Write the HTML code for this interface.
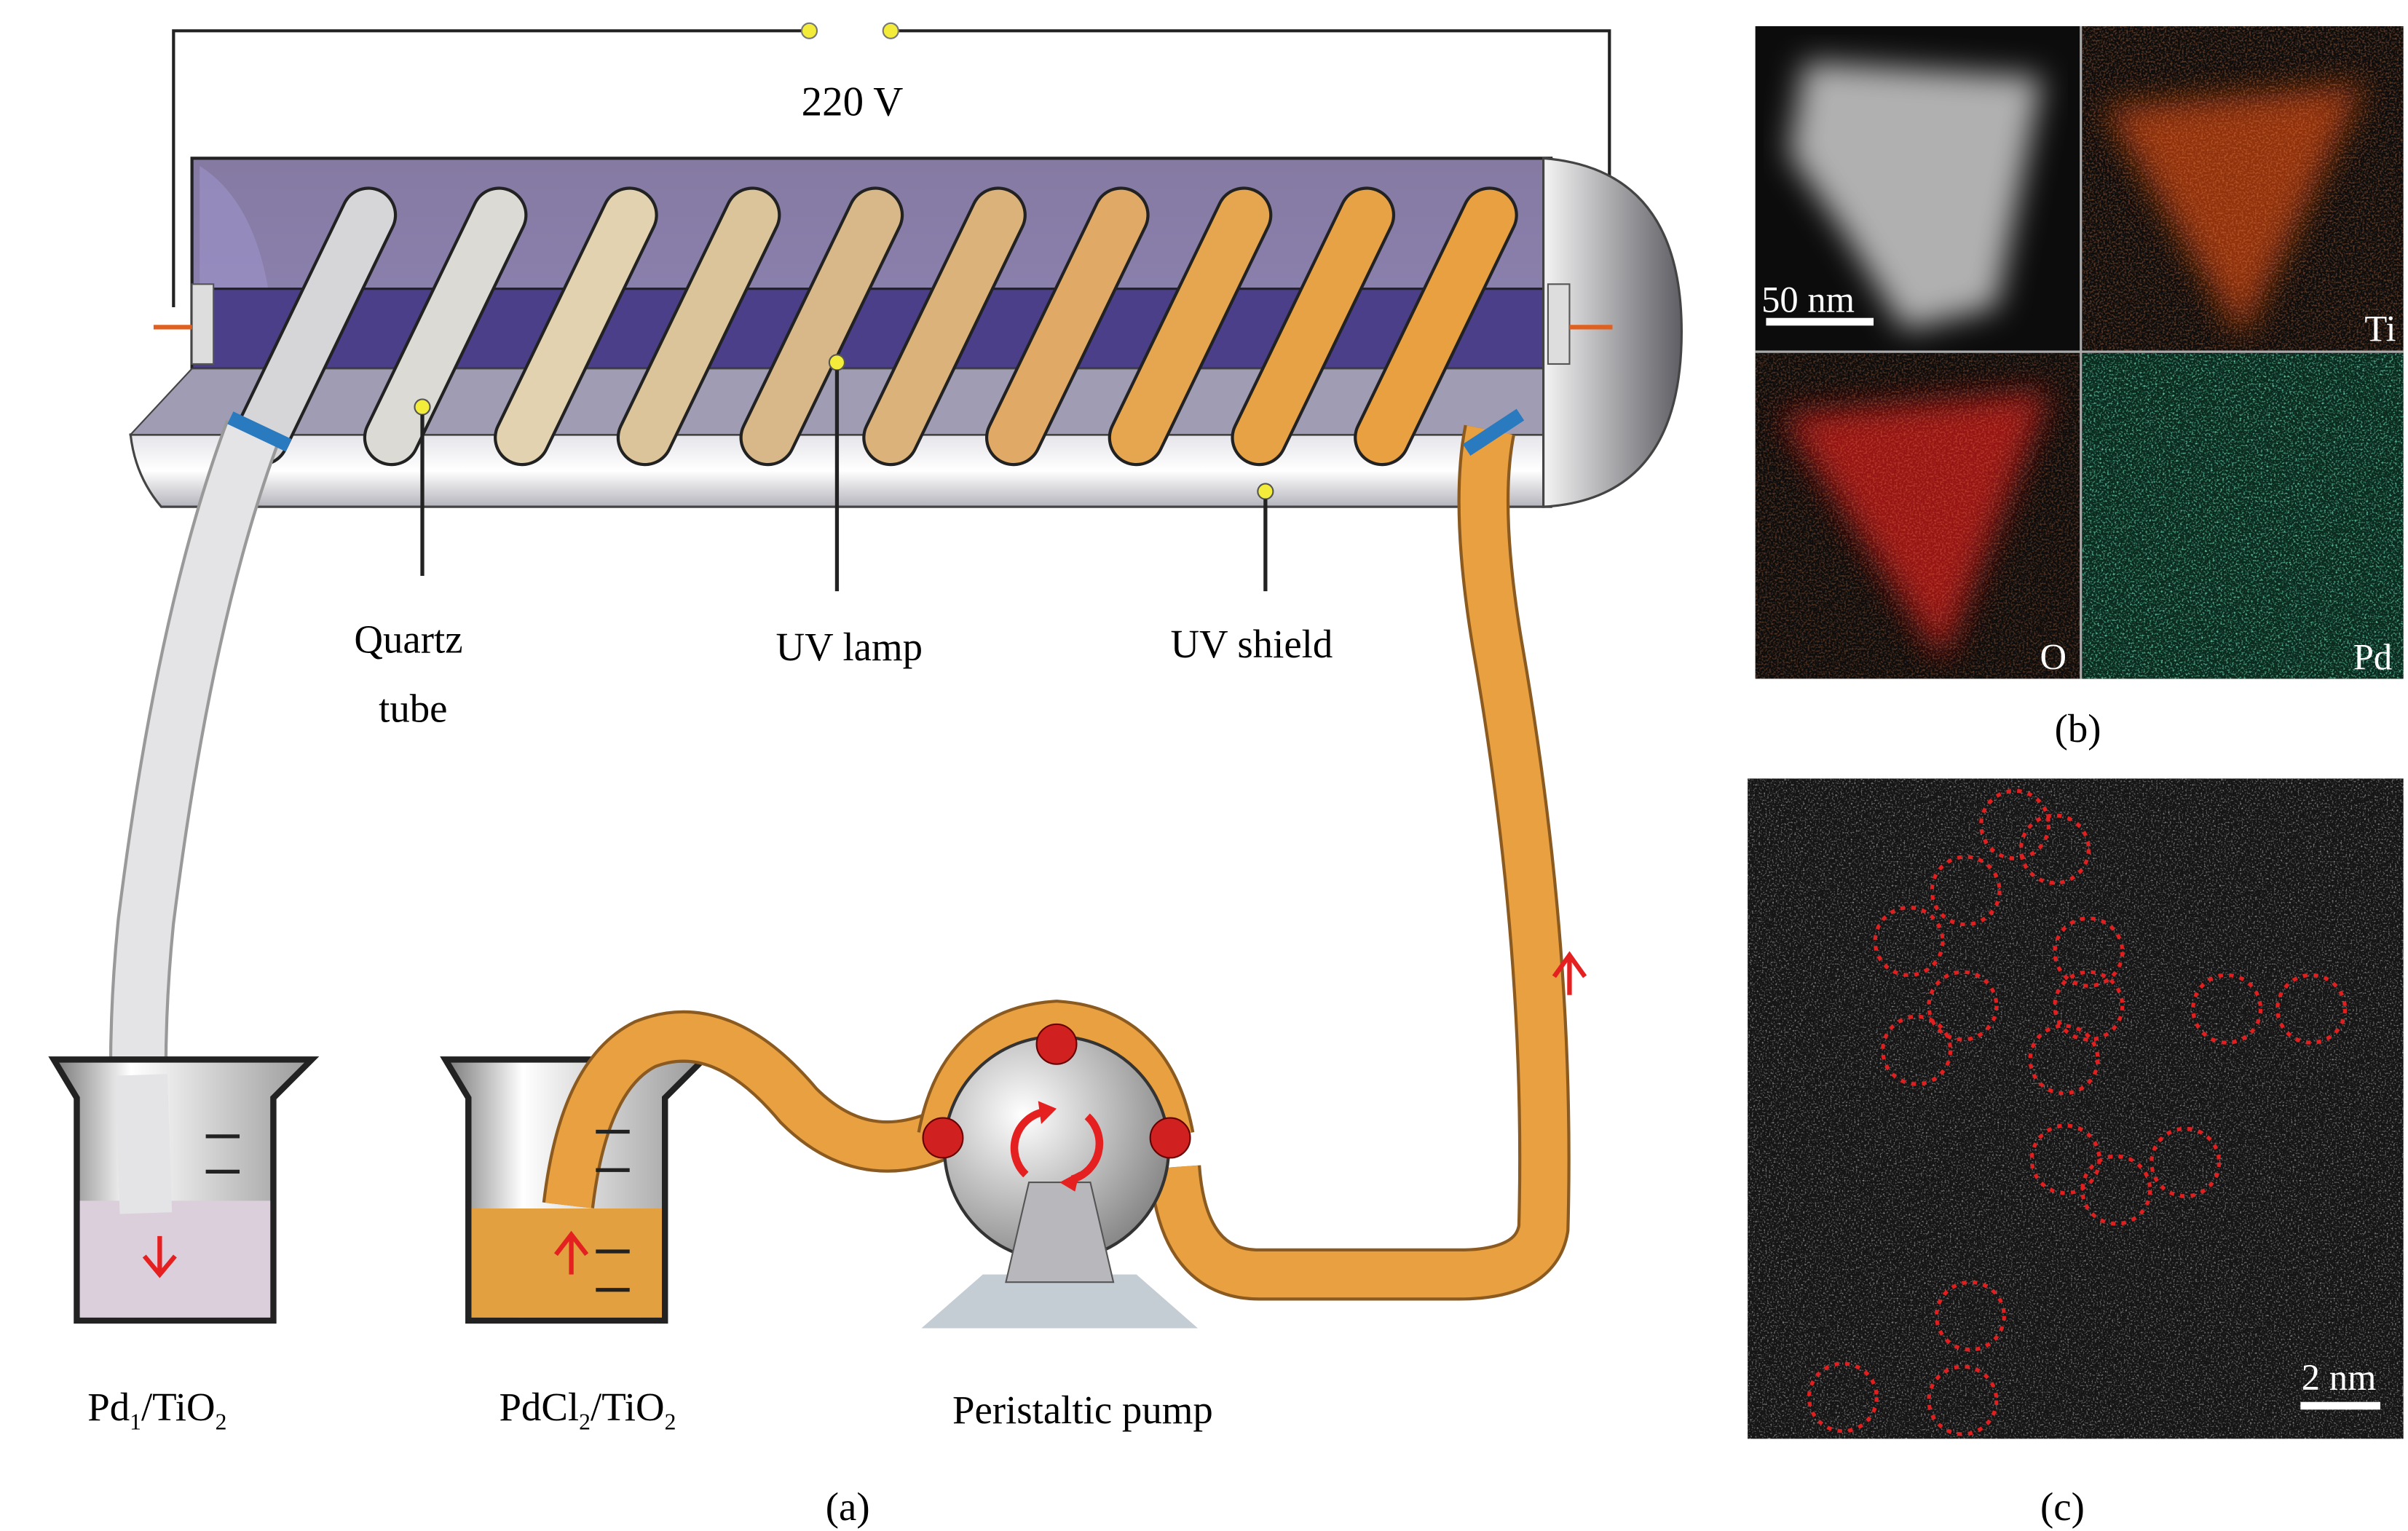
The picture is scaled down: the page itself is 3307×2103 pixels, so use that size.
<!DOCTYPE html>
<html><head><meta charset="utf-8">
<style>html,body{margin:0;padding:0;background:#fff;}svg{display:block}</style></head>
<body>
<svg width="3307" height="2103" viewBox="0 0 1568 997" xmlns="http://www.w3.org/2000/svg" font-family="Liberation Serif, serif">
<defs>
<linearGradient id="shield" x1="0" y1="0" x2="0" y2="1"><stop offset="0" stop-color="#e4e4ea"/><stop offset="0.5" stop-color="#ffffff"/><stop offset="1" stop-color="#b4b4bc"/></linearGradient>
<linearGradient id="cap" x1="0" y1="0" x2="1" y2="0"><stop offset="0" stop-color="#f4f4f4"/><stop offset="1" stop-color="#5e5e64"/></linearGradient>
<linearGradient id="purp" x1="0" y1="0" x2="0" y2="1"><stop offset="0" stop-color="#857aa2"/><stop offset="1" stop-color="#8e84b4"/></linearGradient>
<linearGradient id="beak" x1="0" y1="0" x2="1" y2="0"><stop offset="0" stop-color="#777"/><stop offset="0.3" stop-color="#fff"/><stop offset="1" stop-color="#999"/></linearGradient>
<radialGradient id="pump" cx="0.35" cy="0.35" r="0.7"><stop offset="0" stop-color="#fff"/><stop offset="1" stop-color="#888"/></radialGradient>
<filter id="noise" x="0" y="0" width="1" height="1"><feTurbulence type="fractalNoise" baseFrequency="0.9" numOctaves="2" seed="3"/><feColorMatrix type="matrix" values="0 0 0 0 1 0 0 0 0 1 0 0 0 0 1 3 0 0 0 -1.6"/></filter>
<filter id="noiseR" x="0" y="0" width="1" height="1"><feTurbulence type="fractalNoise" baseFrequency="0.8" numOctaves="2" seed="5"/><feColorMatrix type="matrix" values="0 0 0 0 1 0 0 0 0 0.3 0 0 0 0 0.1 3 0 0 0 -1.3"/></filter>
<filter id="noiseG" x="0" y="0" width="1" height="1"><feTurbulence type="fractalNoise" baseFrequency="0.8" numOctaves="2" seed="7"/><feColorMatrix type="matrix" values="0 0 0 0 0.2 0 0 0 0 0.9 0 0 0 0 0.6 3 0 0 0 -1.5"/></filter>
<filter id="blur"><feGaussianBlur stdDeviation="10"/></filter>
<clipPath id="q1"><rect x="1143" y="17" width="212" height="212"/></clipPath>
<clipPath id="q2"><rect x="1356" y="17" width="209" height="212"/></clipPath>
<clipPath id="q3"><rect x="1143" y="230" width="212" height="212"/></clipPath>
<clipPath id="q4"><rect x="1356" y="230" width="209" height="212"/></clipPath>
</defs>

<!-- wire -->
<path d="M113 200 V20 H525 M581 20 H1048 V212" fill="none" stroke="#222" stroke-width="2"/>
<circle cx="527" cy="20" r="5" fill="#f3ec3a" stroke="#777"/><circle cx="580" cy="20" r="5" fill="#f3ec3a" stroke="#777"/>
<text x="555" y="75" font-size="27" text-anchor="middle">220 V</text>

<!-- reactor -->
<path d="M125 103 L1010 103 L1010 250 L125 250 Z" fill="url(#purp)" stroke="#222" stroke-width="2"/>
<path d="M130 108 Q165 130 175 190 L130 190 Z" fill="#9a90c4" opacity="0.7"/>
<rect x="125" y="188" width="885" height="52" fill="#4b3f8a" stroke="#222" stroke-width="1.5"/>
<path d="M85 283 L1010 283 L1010 330 L105 330 Q88 310 85 283 Z" fill="url(#shield)" stroke="#444" stroke-width="1.5"/>
<path d="M85 283 L125 240 L1005 240 L1010 283 Z" fill="#a09cb4" stroke="#444" stroke-width="1"/>
<path d="M1005 103 Q1095 110 1095 216 Q1095 325 1005 330 Z" fill="url(#cap)" stroke="#444" stroke-width="1.5"/>
<rect x="125" y="185" width="14" height="52" fill="#ddd" stroke="#555"/>
<rect x="1008" y="185" width="14" height="52" fill="#ddd" stroke="#555"/>
<line x1="100" y1="213" x2="125" y2="213" stroke="#e06020" stroke-width="3"/>
<line x1="1022" y1="213" x2="1050" y2="213" stroke="#e06020" stroke-width="3"/>
<g stroke-linecap="round" fill="none">
<g stroke="#222" stroke-width="37">
<path d="M170 285 L240 140"/><path d="M255 285 L325 140"/><path d="M340 285 L410 140"/><path d="M420 285 L490 140"/><path d="M500 285 L570 140"/><path d="M580 285 L650 140"/><path d="M660 285 L730 140"/><path d="M740 285 L810 140"/><path d="M820 285 L890 140"/><path d="M900 285 L970 140"/>
</g>
<g stroke-width="33">
<path d="M170 285 L240 140" stroke="#d6d6d8"/>
<path d="M255 285 L325 140" stroke="#dcdad4"/>
<path d="M340 285 L410 140" stroke="#e2d2b0"/>
<path d="M420 285 L490 140" stroke="#dcc49a"/>
<path d="M500 285 L570 140" stroke="#d8b888"/>
<path d="M580 285 L650 140" stroke="#dab27a"/>
<path d="M660 285 L730 140" stroke="#e0aa66"/>
<path d="M740 285 L810 140" stroke="#e6a650"/>
<path d="M820 285 L890 140" stroke="#e8a246"/>
<path d="M900 285 L970 140" stroke="#e8a040"/>
</g></g>
<!-- outlet/inlet tubes -->
<path d="M165 280 Q120 400 95 600 Q85 700 95 790" stroke="#999" stroke-width="38" fill="none"/>
<path d="M165 280 Q120 400 95 600 Q85 700 95 790" stroke="#e4e4e6" stroke-width="34" fill="none"/>
<path d="M970 280 Q960 330 975 420 Q1010 620 1005 800 Q1000 830 950 830 L820 830 Q770 830 765 760" stroke="#8a5a20" stroke-width="34" fill="none"/>
<path d="M970 280 Q960 330 975 420 Q1010 620 1005 800 Q1000 830 950 830 L820 830 Q770 830 765 760" stroke="#e8a040" stroke-width="30" fill="none"/>
<line x1="150" y1="272" x2="188" y2="290" stroke="#2a7ac0" stroke-width="9"/>
<line x1="955" y1="293" x2="990" y2="270" stroke="#2a7ac0" stroke-width="9"/>
<path d="M1022 648 V622 M1012 636 L1022 622 L1032 636" stroke="#e52020" stroke-width="3" fill="none"/>

<!-- labels -->
<circle cx="275" cy="265" r="5" fill="#f3ec3a" stroke="#555"/><line x1="275" y1="270" x2="275" y2="375" stroke="#222" stroke-width="2.5"/>
<circle cx="545" cy="236" r="5" fill="#f3ec3a" stroke="#555"/><line x1="545" y1="241" x2="545" y2="385" stroke="#222" stroke-width="2.5"/>
<circle cx="824" cy="320" r="5" fill="#f3ec3a" stroke="#555"/><line x1="824" y1="325" x2="824" y2="385" stroke="#222" stroke-width="2.5"/>
<text x="266" y="425" font-size="26" text-anchor="middle">Quartz</text>
<text x="269" y="470" font-size="26" text-anchor="middle">tube</text>
<text x="553" y="430" font-size="26" text-anchor="middle">UV lamp</text>
<text x="815" y="428" font-size="26" text-anchor="middle">UV shield</text>

<!-- beakers -->
<path d="M35 690 H203 L178 715 V860 H50 V715 Z" fill="url(#beak)" stroke="#222" stroke-width="4"/>
<path d="M52 782 H176 V858 H52 Z" fill="#dccfdc"/>
<path d="M95 790 L92 700" stroke="#e4e4e6" stroke-width="34"/>
<path d="M134 740 H156 M134 763 H156" stroke="#222" stroke-width="2.5"/>
<path d="M104 805 V828 M94 818 L104 830 L114 818" stroke="#e52020" stroke-width="3" fill="none"/>
<path d="M290 690 H458 L433 715 V860 H305 V715 Z" fill="url(#beak)" stroke="#222" stroke-width="4"/>
<path d="M307 787 H431 V858 H307 Z" fill="#e2a040"/>
<path d="M370 785 Q380 700 420 680 Q470 660 520 720 Q560 760 610 740 L640 728" stroke="#8a5a20" stroke-width="34" fill="none"/>
<path d="M370 785 Q380 700 420 680 Q470 660 520 720 Q560 760 610 740 L640 728" stroke="#e8a040" stroke-width="30" fill="none"/>
<path d="M388 737 H410 M388 762 H410 M388 815 H410 M388 840 H410" stroke="#222" stroke-width="2.5"/>
<path d="M372 830 V805 M362 817 L372 804 L382 817" stroke="#e52020" stroke-width="3" fill="none"/>

<!-- pump -->
<path d="M600 865 L640 830 H740 L780 865 Z" fill="#c4ccd4"/>
<path d="M612 740 Q625 670 688 666 Q750 670 763 740" stroke="#8a5a20" stroke-width="30" fill="none"/>
<path d="M612 740 Q625 670 688 666 Q750 670 763 740" stroke="#e8a040" stroke-width="26" fill="none"/>
<circle cx="688" cy="748" r="73" fill="url(#pump)" stroke="#333" stroke-width="2"/>
<path d="M655 835 L670 770 H710 L725 835 Z" fill="#b8b8bc" stroke="#555"/>
<circle cx="688" cy="680" r="13" fill="#d02020" stroke="#600"/>
<circle cx="614" cy="741" r="13" fill="#d02020" stroke="#600"/>
<circle cx="762" cy="741" r="13" fill="#d02020" stroke="#600"/>
<path d="M668 765 A24 24 0 0 1 680 724 M708 727 A24 24 0 0 1 698 768" stroke="#e52020" stroke-width="5" fill="none"/>
<path d="M676 717 L688 722 L678 732 Z M700 776 L690 770 L703 763 Z" fill="#e52020"/>
<text x="57" y="925" font-size="26">Pd<tspan font-size="15" dy="6">1</tspan><tspan dy="-6">/TiO</tspan><tspan font-size="15" dy="6">2</tspan></text>
<text x="325" y="925" font-size="26">PdCl<tspan font-size="15" dy="6">2</tspan><tspan dy="-6">/TiO</tspan><tspan font-size="15" dy="6">2</tspan></text>
<text x="705" y="927" font-size="26" text-anchor="middle">Peristaltic pump</text>
<text x="552" y="990" font-size="26" text-anchor="middle">(a)</text>

<!-- panel b -->
<rect x="1143" y="17" width="422" height="425" fill="#0c0c0c"/>
<g clip-path="url(#q1)"><path d="M1175 40 L1330 50 L1300 200 L1240 215 L1200 150 L1165 100 Z" fill="#b0b0b0" filter="url(#blur)"/></g>
<g clip-path="url(#q2)"><path d="M1370 70 L1540 55 L1460 220 Z" fill="#b03a10" opacity="0.8" filter="url(#blur)"/>
<rect x="1356" y="17" width="209" height="212" filter="url(#noiseR)" opacity="0.35"/></g>
<g clip-path="url(#q3)"><path d="M1160 270 L1335 255 L1265 430 Z" fill="#b01818" opacity="0.85" filter="url(#blur)"/>
<rect x="1143" y="230" width="212" height="212" filter="url(#noiseR)" opacity="0.3"/></g>
<g clip-path="url(#q4)"><rect x="1356" y="230" width="209" height="212" fill="#0a2a1e"/>
<rect x="1356" y="230" width="209" height="212" filter="url(#noiseG)" opacity="0.8"/></g>
<path d="M1355 17 V442 M1143 229 H1565" stroke="#aaa" stroke-width="1.5"/>
<rect x="1150" y="207" width="70" height="5" fill="#fff"/>
<text x="1147" y="203" font-size="24" fill="#fff">50 nm</text>
<text x="1550" y="222" font-size="24" fill="#fff" text-anchor="middle">Ti</text>
<text x="1337" y="436" font-size="24" fill="#fff" text-anchor="middle">O</text>
<text x="1545" y="436" font-size="24" fill="#fff" text-anchor="middle">Pd</text>
<text x="1353" y="483" font-size="26" text-anchor="middle">(b)</text>

<!-- panel c -->
<rect x="1138" y="507" width="427" height="430" fill="#151515"/>
<rect x="1138" y="507" width="427" height="430" filter="url(#noise)" opacity="0.55"/>
<g fill="none" stroke="#e02020" stroke-width="2.5" stroke-dasharray="3 4">
<circle cx="1312" cy="537" r="22"/><circle cx="1338" cy="553" r="22"/><circle cx="1280" cy="580" r="22"/>
<circle cx="1243" cy="613" r="22"/><circle cx="1278" cy="655" r="22"/><circle cx="1248" cy="684" r="22"/>
<circle cx="1360" cy="620" r="22"/><circle cx="1360" cy="655" r="22"/><circle cx="1344" cy="690" r="22"/>
<circle cx="1450" cy="657" r="22"/><circle cx="1505" cy="657" r="22"/><circle cx="1345" cy="755" r="22"/>
<circle cx="1378" cy="775" r="22"/><circle cx="1423" cy="757" r="22"/><circle cx="1283" cy="857" r="22"/>
<circle cx="1200" cy="910" r="22"/><circle cx="1278" cy="912" r="22"/>
</g>
<rect x="1498" y="913" width="52" height="5" fill="#fff"/>
<text x="1523" y="905" font-size="24" fill="#fff" text-anchor="middle">2 nm</text>
<text x="1343" y="990" font-size="26" text-anchor="middle">(c)</text>
</svg>
</body></html>
